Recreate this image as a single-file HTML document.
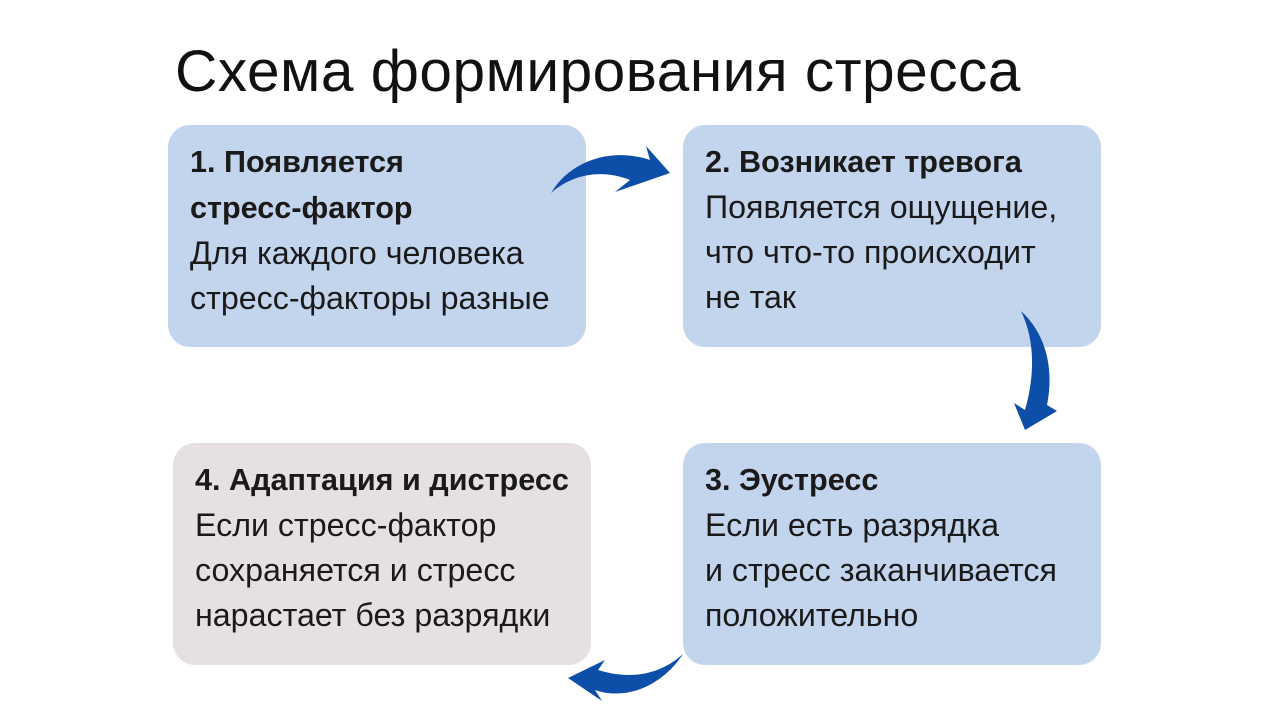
<!DOCTYPE html>
<html><head><meta charset="utf-8"><style>
body{margin:0;width:1280px;height:720px;background:#fff;position:relative;overflow:hidden;font-family:"Liberation Sans","Noto Sans CJK SC",sans-serif;color:#1a1a1a}
h1{position:absolute;left:175px;top:38px;margin:0;font-weight:normal;font-size:58.6px;letter-spacing:0.5px;color:#111;white-space:nowrap}
.b{position:absolute;width:418px;height:222px;border-radius:22px;background:#c3d4ed}
.t{position:absolute;left:22px;top:14px;font-size:32.2px;line-height:45px;white-space:nowrap}
.t b{font-weight:bold;font-size:30.6px}
</style></head><body>
<h1>Схема формирования стресса</h1>
<div class="b" style="left:168px;top:125px"><div class="t"><b>1. Появляется<br>стресс-фактор</b><br>Для каждого человека<br>стресс-факторы разные</div></div>
<div class="b" style="left:683px;top:125px"><div class="t"><b>2. Возникает тревога</b><br>Появляется ощущение,<br>что что-то происходит<br>не так</div></div>
<div class="b" style="left:683px;top:443px"><div class="t"><b>3. Эустресс</b><br>Если есть разрядка<br>и стресс заканчивается<br>положительно</div></div>
<div class="b" style="left:173px;top:443px;background:#e7e0e1"><div class="t"><b>4. Адаптация и дистресс</b><br>Если стресс-фактор<br>сохраняется и стресс<br>нарастает без разрядки</div></div>
<svg width="1280" height="720" style="position:absolute;left:0;top:0">
<g fill="#0c4ea8">
<path d="M551 193 C572 158 615 148 650 160 L646 146 L670 173 L615 192 L630 180 C605 170 575 172 551 193Z"/>
<path d="M1021 311 C1047 335 1054 370 1047 405 L1057 411 L1025 430 L1014 403 L1025 410 C1035 375 1035 340 1021 311Z"/>
<path d="M683 654 C665 682 630 702 595 690 L602 701 L568 678 L605 660 L598 670 C630 680 660 675 683 654Z"/>
</g>
</svg>
</body></html>
